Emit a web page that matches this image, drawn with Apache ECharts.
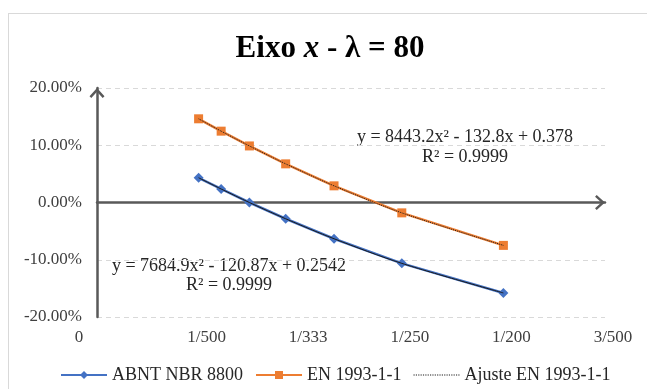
<!DOCTYPE html>
<html>
<head>
<meta charset="utf-8">
<script src="https://cdn.jsdelivr.net/npm/echarts@6/dist/echarts.min.js"></script>
<style>
html,body{margin:0;padding:0;background:#fff;overflow:hidden;}
#frame{position:absolute;left:8px;top:13px;width:700px;height:500px;border:1px solid #d9d9d9;box-sizing:border-box;}
#chart{position:absolute;left:0;top:0;width:647px;height:389px;}
</style>
</head>
<body>
<div id="frame"></div>
<div id="chart"></div>
<script>
// ---- data ----
const xValues = [0.002, 0.002222, 0.0025, 0.002857, 0.003333, 0.004, 0.005]; // 1/500 ... 1/200
const abntValues = [0.0432, 0.0236, 0.0000, -0.0284, -0.0633, -0.1063, -0.1580];
const enValues = [0.1462, 0.1246, 0.0988, 0.0675, 0.0291, -0.0181, -0.0749];
const xTickValues = [0.001, 0.002, 0.003, 0.004, 0.005, 0.006];
const xTickLabels = ['0', '1/500', '1/333', '1/250', '1/200', '3/500'];
const seriesNames = ['ABNT NBR 8800', 'EN 1993-1-1', 'Ajuste EN 1993-1-1'];
const eqEN = ['y = 8443.2x² - 132.8x + 0.378', 'R² = 0.9999'];
const eqABNT = ['y = 7684.9x² - 120.87x + 0.2542', 'R² = 0.9999'];

const pairs = (xs, ys) => xs.map((x, i) => [x, ys[i]]);
const FONT = 'Liberation Serif';
const chevron = 'path://M50,0 L100,55 L88,66 L50,24 L12,66 L0,55 Z';
// dotted-line legend icon
let dots = '';
for (let k = 0; k < 20; k++) { dots += 'M' + (k * 5) + ',0 h2.5 v1.6 h-2.5 Z '; }
const dottedIcon = 'path://' + dots;

const chart = echarts.init(document.getElementById('chart'), null, {renderer: 'canvas'});
chart.setOption({
  backgroundColor: 'transparent',
  animation: false,
  textStyle: {fontFamily: FONT},
  grid: {left: 97, right: 42, top: 88, bottom: 72},
  legend: {
    data: [seriesNames[0], seriesNames[1], {name: seriesNames[2], icon: dottedIcon, itemStyle: {color: '#1a1a1a'}}],
    top: 361, left: 55,
    itemWidth: 46, itemHeight: 10, itemGap: 12,
    textStyle: {fontFamily: FONT, fontSize: 18, color: '#262626'}
  },
  graphic: [
    {type: 'text', silent: true,
     style: {x: 330, y: 49, text: '{b|Eixo }{i|x}{b| - λ = 80}', textAlign: 'center', textVerticalAlign: 'middle',
       rich: {b: {fontFamily: FONT, fontSize: 31, fontWeight: 'bold', fill: '#000'},
              i: {fontFamily: FONT, fontSize: 31, fontWeight: 'bold', fontStyle: 'italic', fill: '#000'}}}},
    {type: 'text', style: {x: 465, y: 137, text: eqEN[0], textAlign: 'center', textVerticalAlign: 'middle', fontFamily: FONT, fontSize: 18, fill: '#262626'}},
    {type: 'text', style: {x: 465, y: 157, text: eqEN[1], textAlign: 'center', textVerticalAlign: 'middle', fontFamily: FONT, fontSize: 18, fill: '#262626'}},
    {type: 'text', style: {x: 229, y: 266, text: eqABNT[0], textAlign: 'center', textVerticalAlign: 'middle', fontFamily: FONT, fontSize: 18, fill: '#262626'}},
    {type: 'text', style: {x: 229, y: 285, text: eqABNT[1], textAlign: 'center', textVerticalAlign: 'middle', fontFamily: FONT, fontSize: 18, fill: '#262626'}}
  ],
  xAxis: [
    {type: 'value', min: 0.001, max: 0.006, interval: 0.001, position: 'bottom',
     axisLine: {show: false, onZero: false}, axisTick: {show: false}, splitLine: {show: false},
     axisLabel: {margin: 12, fontFamily: FONT, fontSize: 17, color: '#404040',
       formatter: function (v) {
         const i = xTickValues.findIndex(t => Math.abs(t - v) < 1e-9);
         if (i < 0) return '';
         return i === 0 ? '{z|' + xTickLabels[i] + '}' : '{f|' + xTickLabels[i] + '}';
       },
       rich: {z: {fontFamily: FONT, fontSize: 17, color: '#404040', padding: [0, 36, 0, 0]},
              f: {fontFamily: FONT, fontSize: 17, color: '#404040', padding: [0, 0, 0, 16]}}}},
    {type: 'value', min: 0.001, max: 0.006, interval: 0.001,
     axisLine: {show: true, onZero: true, symbol: ['none', chevron], symbolSize: [15, 13], symbolOffset: [0, -5],
       lineStyle: {color: '#595959', width: 2.5}},
     axisTick: {show: false}, axisLabel: {show: false}, splitLine: {show: false}}
  ],
  yAxis: {
    type: 'value', min: -0.2, max: 0.2, interval: 0.1,
    axisLine: {show: true, onZero: false, symbol: ['none', chevron], symbolSize: [15, 13], symbolOffset: [0, -5],
      lineStyle: {color: '#595959', width: 2.5}},
    axisTick: {show: false},
    splitLine: {show: true, lineStyle: {color: '#d9d9d9', type: [5, 4], width: 1}},
    axisLabel: {margin: 15, fontFamily: FONT, fontSize: 17, color: '#404040',
      formatter: v => (v * 100).toFixed(2) + '%'}
  },
  series: [
    {name: seriesNames[0], type: 'line', xAxisIndex: 0, data: pairs(xValues, abntValues),
     symbol: 'diamond', symbolSize: 10, itemStyle: {color: '#4472C4'},
     lineStyle: {color: '#4472C4', width: 2.5}},
    {name: seriesNames[1], type: 'line', xAxisIndex: 0, data: pairs(xValues, enValues),
     symbol: 'rect', symbolSize: 9, itemStyle: {color: '#ED7D31'},
     lineStyle: {color: '#ED7D31', width: 2.5}},
    {name: 'Ajuste ABNT NBR 8800', type: 'line', xAxisIndex: 0, data: pairs(xValues, abntValues),
     smooth: 0.3, symbol: 'none', itemStyle: {color: '#1a1a1a'},
     lineStyle: {color: '#1a1a1a', width: 1}, z: 5},
    {name: seriesNames[2], type: 'line', xAxisIndex: 0, data: pairs(xValues, enValues),
     smooth: 0.3, symbol: 'none', itemStyle: {color: '#1a1a1a'},
     lineStyle: {color: '#1a1a1a', width: 1, type: 'dotted'}, z: 5}
  ]
});
</script>
</body>
</html>
